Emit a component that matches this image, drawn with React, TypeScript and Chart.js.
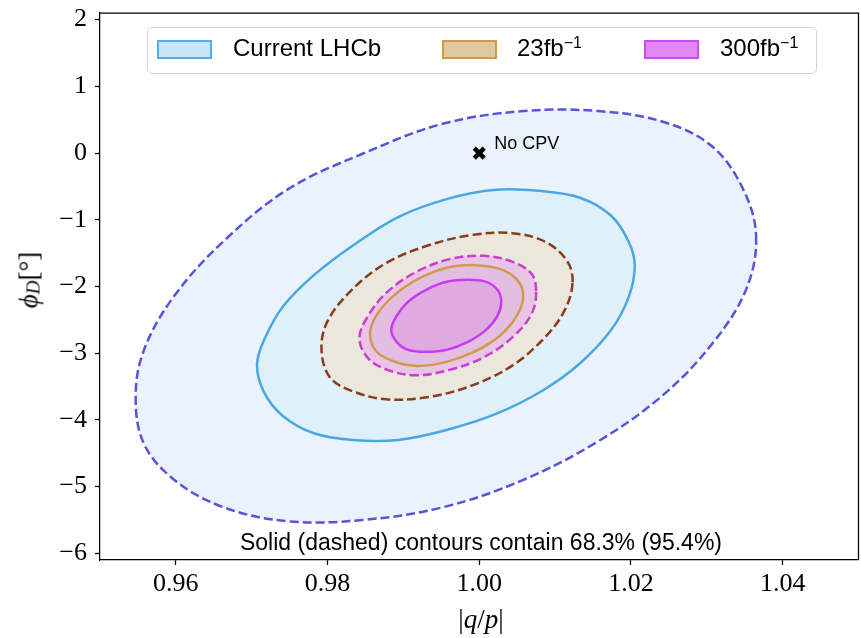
import React, { useEffect, useRef } from 'react';
import { Chart, registerables } from 'chart.js';
Chart.register(...registerables);

// ---- axes ----
const xRange = [0.95, 1.05];
const yRange = [-6.1, 2.1];
const xTicks = [0.96, 0.98, 1.0, 1.02, 1.04];
const yTicks = [-6, -5, -4, -3, -2, -1, 0, 1, 2];

// ---- contours (|q/p|, phi_D), going round each loop ----
// Current LHCb, 95.4% (dashed)
const current95X = [1.0365, 1.0352, 1.0307, 1.0241, 1.0157, 1.0058, 0.9952, 0.9846, 0.9748, 0.9663, 0.9598, 0.9558, 0.9547, 0.9558, 0.9598, 0.9663, 0.9748, 0.9846, 0.9952, 1.0058, 1.0157, 1.0242, 1.0306, 1.0347];
const current95Y = [-1.24, -2.04, -2.86, -3.64, -4.32, -4.9, -5.31, -5.5, -5.52, -5.31, -4.9, -4.36, -3.66, -2.95, -2.14, -1.32, -0.54, -0.01, 0.44, 0.63, 0.63, 0.47, 0.11, -0.52];
// Current LHCb, 68.3% (solid)
const current68X = [1.0205, 1.0197, 1.0174, 1.0133, 1.0082, 1.0022, 0.9957, 0.9893, 0.9833, 0.9782, 0.9741, 0.9716, 0.9707, 0.9718, 0.9742, 0.9782, 0.9833, 0.9893, 0.9957, 1.0022, 1.0082, 1.0133, 1.0174, 1.0197];
const current68Y = [-1.69, -2.16, -2.65, -3.15, -3.57, -3.91, -4.15, -4.3, -4.3, -4.2, -3.94, -3.58, -3.16, -2.76, -2.29, -1.83, -1.39, -0.96, -0.69, -0.55, -0.57, -0.67, -0.94, -1.33];
// 23 fb^-1, 95.4% (dashed)
const lumi23_95X = [1.0123, 1.0112, 1.0086, 1.0043, 0.9989, 0.9931, 0.9877, 0.9833, 0.9803, 0.9792, 0.98, 0.9832, 0.9877, 0.9931, 0.9989, 1.0043, 1.0087, 1.0116];
const lumi23_95Y = [-1.95, -2.37, -2.77, -3.19, -3.49, -3.66, -3.69, -3.57, -3.36, -2.95, -2.52, -2.05, -1.65, -1.39, -1.23, -1.2, -1.33, -1.62];
// 23 fb^-1, 68.3% (solid)
const lumi23_68X = [1.0058, 1.005, 1.0028, 0.9995, 0.9957, 0.9919, 0.9887, 0.9864, 0.9856, 0.9864, 0.9887, 0.9919, 0.9957, 0.9995, 1.0028, 1.005];
const lumi23_68Y = [-2.14, -2.43, -2.73, -2.97, -3.13, -3.19, -3.12, -2.97, -2.71, -2.44, -2.14, -1.89, -1.72, -1.68, -1.74, -1.9];
// 300 fb^-1, 95.4% (dashed)
const lumi300_95X = [1.0075, 1.0069, 1.0044, 1.0006, 0.9961, 0.9917, 0.9879, 0.9853, 0.9842, 0.9854, 0.9879, 0.9917, 0.9961, 1.0006, 1.0044, 1.0069];
const lumi300_95Y = [-2.08, -2.41, -2.76, -3.06, -3.25, -3.33, -3.25, -3.07, -2.77, -2.43, -2.08, -1.78, -1.59, -1.54, -1.63, -1.81];
// 300 fb^-1, 68.3% (solid)
const lumi300_68X = [1.0029, 1.0024, 1.0009, 0.9985, 0.9957, 0.993, 0.9906, 0.9891, 0.9884, 0.9891, 0.9906, 0.993, 0.9957, 0.9985, 1.0009, 1.0024];
const lumi300_68Y = [-2.23, -2.44, -2.65, -2.83, -2.95, -2.98, -2.95, -2.83, -2.65, -2.44, -2.23, -2.05, -1.93, -1.9, -1.93, -2.05];

// No CPV point
const noCpvX = [1.0];
const noCpvY = [0.0];
const noCpvLabel = 'No CPV';

const legendLabels = ['Current LHCb', '23fb', '300fb'];
const noteText = 'Solid (dashed) contours contain 68.3% (95.4%)';

// closed loop: wrap one point on each side so the spline is smooth at the seam;
// the two wrap segments are left unstroked.
const wrapped = (xs: number[], ys: number[]) => {
  const pts = xs.map((x, i) => ({ x, y: ys[i] }));
  const n = pts.length;
  return [{ ...pts[n - 1] }, ...pts, { ...pts[0] }, { ...pts[1] }];
};

const contour = (label: string, xs: number[], ys: number[], line: string, fillColor: string, dashed: boolean, order: number) => {
  const data = wrapped(xs, ys);
  const lastSeg = data.length - 2;
  return {
    type: 'line',
    label,
    data,
    showLine: true,
    borderColor: line,
    backgroundColor: fillColor,
    borderWidth: 2.5,
    borderDash: dashed ? [9, 4] : [],
    fill: 'shape',
    tension: 0.36,
    capBezierPoints: false,
    pointRadius: 0,
    pointHoverRadius: 0,
    segment: {
      borderColor: (c: any) => (c.p0DataIndex === 0 || c.p0DataIndex === lastSeg ? 'rgba(0,0,0,0)' : undefined),
    },
    order,
  };
};

const fmtMinus = (v: number, digits: number) => v.toFixed(digits).replace('-', '\u2212');

const overlayPlugin = {
  id: 'overlayFrame',
  afterDatasetsDraw(chart: any) {
    const { ctx, chartArea: a, scales } = chart;
    ctx.save();
    ctx.strokeStyle = '#000';
    ctx.lineWidth = 1.25;
    ctx.beginPath();
    ctx.moveTo(a.left, a.top);
    ctx.lineTo(a.right, a.top);
    ctx.lineTo(a.right, a.bottom);
    ctx.stroke();
    const px = scales.x.getPixelForValue(noCpvX[0]);
    const py = scales.y.getPixelForValue(noCpvY[0]);
    ctx.fillStyle = '#000';
    ctx.font = '18px "Liberation Sans"';
    ctx.textBaseline = 'middle';
    ctx.textAlign = 'left';
    ctx.fillText(noCpvLabel, px + 15, py - 9);
    ctx.restore();
  },
};

export default function App() {
  const ref = useRef<HTMLCanvasElement>(null);

  useEffect(() => {
    const canvas = ref.current!;
    const chart = new Chart(canvas, {
      type: 'line',
      data: {
        datasets: [
          {
            type: 'line',
            label: noCpvLabel,
            data: noCpvX.map((x, i) => ({ x, y: noCpvY[i] })),
            pointStyle: 'crossRot',
            pointRadius: 7,
            pointBorderWidth: 4.5,
            borderColor: '#000',
            backgroundColor: '#000',
            showLine: false,
            order: 0,
          } as any,
          contour('300fb 68', lumi300_68X, lumi300_68Y, '#c93af2', '#deaadf', false, 1),
          contour('23fb 68', lumi23_68X, lumi23_68Y, '#d09a4c', '#e4bde3', false, 2),
          contour('300fb 95', lumi300_95X, lumi300_95Y, '#c83fd0', '#e9c4e7', true, 3),
          contour('23fb 95', lumi23_95X, lumi23_95Y, '#8b3b1b', '#ebe7dc', true, 4),
          contour('Current 68', current68X, current68Y, '#4aa8e0', '#dff0fb', false, 5),
          contour('Current 95', current95X, current95Y, '#5a52d8', '#eaf2fd', true, 6),
        ] as any,
      },
      options: {
        animation: false,
        responsive: false,
        devicePixelRatio: 1,
        layout: { padding: { left: 0, right: 7, top: 13, bottom: 0 } },
        plugins: { legend: { display: false }, tooltip: { enabled: false } },
        events: [],
        scales: {
          x: {
            type: 'linear',
            min: xRange[0],
            max: xRange[1],
            afterBuildTicks: (s: any) => { s.ticks = xTicks.map((value) => ({ value })); },
            afterFit: (s: any) => { s.height = 78; s.paddingLeft = 0; s.paddingRight = 0; },
            ticks: {
              color: '#000',
              font: { family: '"Liberation Serif"', size: 26 },
              padding: 4,
              maxRotation: 0,
              callback: (v: any) => fmtMinus(Number(v), 2),
            },
            grid: { drawOnChartArea: false, drawTicks: true, tickLength: 5, tickColor: '#000', tickWidth: 1.25 },
            border: { display: true, color: '#000', width: 1.25 },
          },
          y: {
            type: 'linear',
            min: yRange[0],
            max: yRange[1],
            afterBuildTicks: (s: any) => { s.ticks = yTicks.map((value) => ({ value })); },
            afterFit: (s: any) => { s.width = 100; s.paddingTop = 0; s.paddingBottom = 0; },
            ticks: {
              color: '#000',
              font: { family: '"Liberation Serif"', size: 26 },
              padding: 8,
              callback: (v: any) => fmtMinus(Number(v), 0),
            },
            grid: { drawOnChartArea: false, drawTicks: true, tickLength: 5, tickColor: '#000', tickWidth: 1.25 },
            border: { display: true, color: '#000', width: 1.25 },
          },
        },
      } as any,
      plugins: [overlayPlugin],
    });
    return () => chart.destroy();
  }, []);

  const sans = '"Liberation Sans", Arial, sans-serif';
  const serif = '"Liberation Serif", serif';
  const patch = (left: number, fill: string, border: string) => (
    <div style={{ position: 'absolute', left, top: 12, width: 51, height: 15, background: fill, border: `2px solid ${border}` }} />
  );
  const label = (left: number, content: React.ReactNode) => (
    <div style={{ position: 'absolute', left, top: 6, fontFamily: sans, fontSize: 24, lineHeight: '28px', whiteSpace: 'nowrap', color: '#000' }}>{content}</div>
  );
  const sup = (t: string) => <sup style={{ fontSize: 16, verticalAlign: 'top', position: 'relative', top: -5 }}>{t}</sup>;

  return (
    <div style={{ position: 'absolute', left: 0, top: 0, width: 861, height: 638, overflow: 'hidden', background: '#fff' }}>
      <canvas ref={ref} width={870} height={638} style={{ display: 'block', width: 870, height: 638 }} />
      {/* legend */}
      <div style={{ position: 'absolute', left: 147, top: 27, width: 668, height: 45, border: '1px solid #d3d3d3', borderRadius: 5, background: 'rgba(255,255,255,0.85)' }}>
        {patch(9, '#c8e6fa', '#56aee8')}
        {label(85, legendLabels[0])}
        {patch(294, '#e0c8a0', '#d09a4c')}
        {label(369, <span>{legendLabels[1]}{sup('\u22121')}</span>)}
        {patch(496, '#e387f5', '#c94cef')}
        {label(572, <span>{legendLabels[2]}{sup('\u22121')}</span>)}
      </div>
      {/* bottom note */}
      <div style={{ position: 'absolute', left: 100, width: 762, top: 528, textAlign: 'center', fontFamily: sans, fontSize: 23, lineHeight: '28px', color: '#000', whiteSpace: 'nowrap' }}>
        {noteText}
      </div>
      {/* x title */}
      <div style={{ position: 'absolute', left: 100, width: 762, top: 603, textAlign: 'center', fontFamily: serif, fontSize: 27, lineHeight: '32px', color: '#000' }}>
        |<i>q</i>/<i>p</i>|
      </div>
      {/* y title */}
      <div style={{ position: 'absolute', left: 30, top: 280, width: 0, height: 0 }}>
        <div style={{ position: 'absolute', left: 0, top: 0, transform: 'translate(-50%, -50%) rotate(-90deg)', fontFamily: serif, fontSize: 27, lineHeight: '32px', whiteSpace: 'nowrap', color: '#000' }}>
          <i>{'\u03d5'}</i><sub style={{ fontSize: 19, position: 'relative', top: 2, verticalAlign: 'baseline' }}><i>D</i></sub>[{'\u00b0'}]
        </div>
      </div>
    </div>
  );
}
